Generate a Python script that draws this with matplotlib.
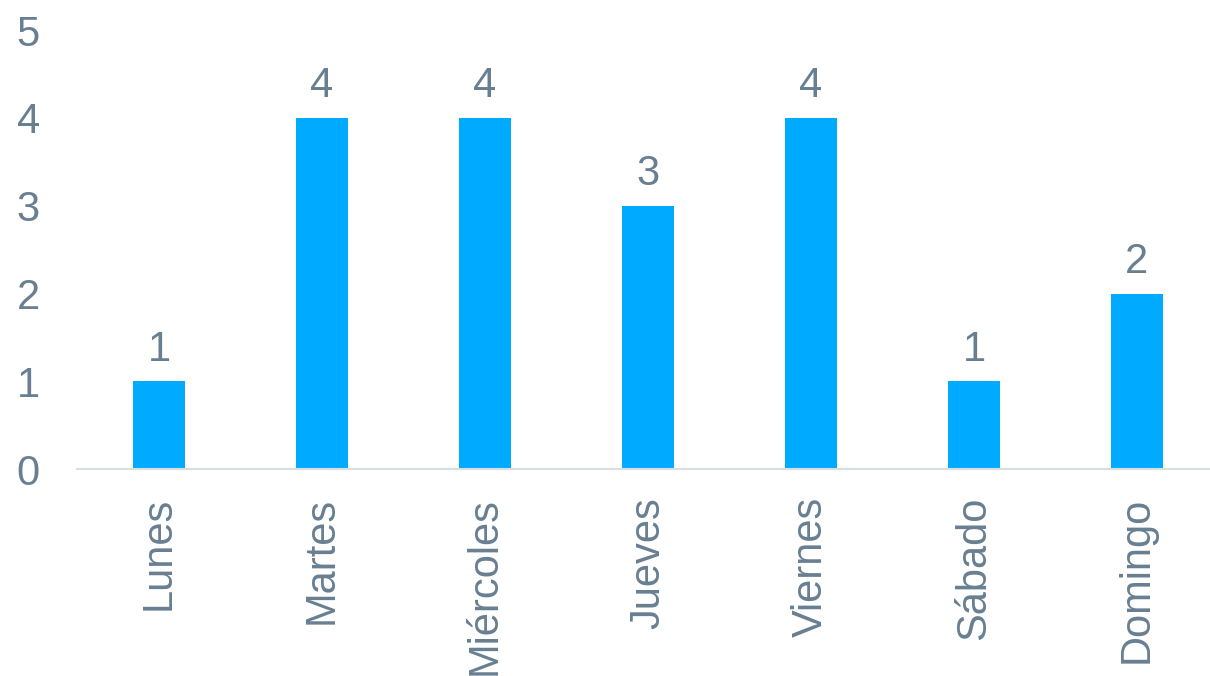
import matplotlib.pyplot as plt

dias = ['Lunes', 'Martes', 'Miércoles', 'Jueves', 'Viernes', 'Sábado', 'Domingo']
valores = [1, 4, 4, 3, 4, 1, 2]

color_barra = '#00aaff'
color_texto = '#687f92'

plt.rcParams['font.family'] = ['Liberation Sans', 'DejaVu Sans']

fig = plt.figure(figsize=(12.1, 6.76), dpi=100)
ax = fig.add_axes([0.064, 0.306, 0.943, 0.6494])

x = range(len(dias))
bars = ax.bar(x, valores, width=0.315, color=color_barra)

for b, v in zip(bars, valores):
    ax.annotate(str(v), (b.get_x() + b.get_width() / 2, v), xytext=(0, 15),
                textcoords='offset points', ha='center', va='baseline',
                fontsize=30, color=color_texto)

ax.set_xlim(-0.5, 6.5)
ax.set_ylim(0, 5)
ax.set_yticks(range(6))
ax.set_xticks(list(x))
ax.set_xticklabels(dias, rotation=90)
ax.tick_params(axis='both', length=0, labelsize=30, labelcolor=color_texto)
ax.tick_params(axis='y', pad=27)
ax.tick_params(axis='x', pad=20)

for s in ['top', 'right', 'left']:
    ax.spines[s].set_visible(False)
ax.spines['bottom'].set_color('#d9dee3')
ax.spines['bottom'].set_linewidth(1.5)

fig.savefig('out.png', dpi=100)
